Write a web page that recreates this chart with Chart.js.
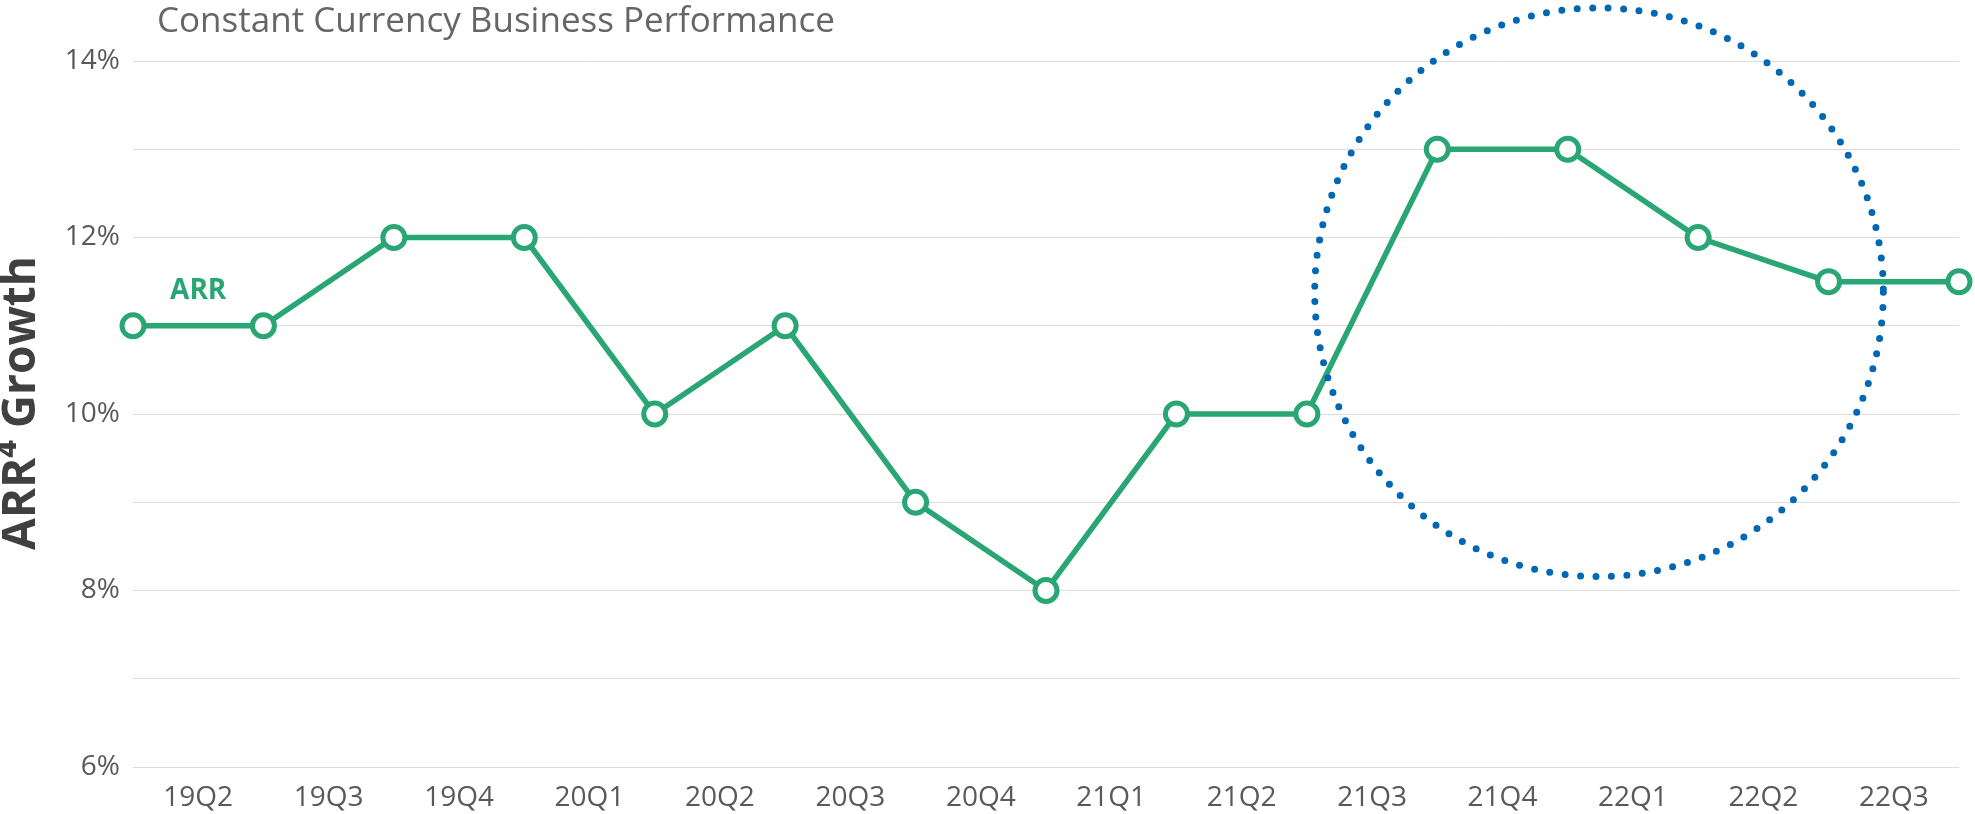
<!DOCTYPE html>
<html>
<head>
<meta charset="utf-8">
<script src="https://cdn.jsdelivr.net/npm/chart.js@4.4.1/dist/chart.umd.min.js"></script>
<style>
html, body { margin: 0; padding: 0; background: #fff; }
#wrap { width: 1975px; height: 814px; }
</style>
</head>
<body>
<div id="wrap"><canvas id="arrChart" width="1975" height="814"></canvas></div>
<script>
// Quarter labels sit between the data points
const quarterLabels = ['19Q2', '19Q3', '19Q4', '20Q1', '20Q2', '20Q3', '20Q4',
    '21Q1', '21Q2', '21Q3', '21Q4', '22Q1', '22Q2', '22Q3'];
// ARR growth %, one point per quarter boundary
const arrGrowth = [11, 11, 12, 12, 10, 11, 9, 8, 10, 10, 13, 13, 12, 11.5, 11.5];

const chartTitle = 'Constant Currency Business Performance';
const axisTitle = 'ARR\u2074 Growth';
const seriesName = 'ARR';

const green = '#29A673';
const fontFamily = '"Open Sans", "Noto Sans", sans-serif';

// dotted highlight circle, in data units
const focus = { x: 11.24, y: 11.38, r: 2.18 };

const titlePlugin = {
    id: 'titles',
    afterDraw(chart) {
        const ctx = chart.ctx;
        ctx.save();
        ctx.font = '35px ' + fontFamily;
        ctx.fillStyle = '#666666';
        ctx.textBaseline = 'middle';
        ctx.fillText(chartTitle, 157, 22);

        // rotated axis title
        ctx.translate(22, 403);
        ctx.rotate(-Math.PI / 2);
        ctx.font = 'bold 46px ' + fontFamily;
        ctx.fillStyle = '#404040';
        ctx.textAlign = 'center';
        ctx.fillText(axisTitle, 0, 0);
        ctx.restore();
    }
};

const focusPlugin = {
    id: 'focusCircle',
    afterDatasetsDraw(chart) {
        const { ctx, scales: { x, y } } = chart;
        const cx = x.getPixelForValue(focus.x);
        const cy = y.getPixelForValue(focus.y);
        const r = x.getPixelForValue(focus.x + focus.r) - cx;
        ctx.save();
        ctx.strokeStyle = '#0067B4';
        ctx.lineWidth = 7;
        ctx.lineCap = 'round';
        ctx.setLineDash([0, 15.5]);
        ctx.beginPath();
        ctx.arc(cx, cy, r, 0, Math.PI * 2);
        ctx.stroke();
        ctx.restore();

        // series name above the first segment
        const lx = x.getPixelForValue(0.5);
        const ly = y.getPixelForValue(arrGrowth[0]) - 35;
        ctx.save();
        ctx.font = 'bold 28px ' + fontFamily;
        ctx.fillStyle = green;
        ctx.textAlign = 'center';
        ctx.textBaseline = 'middle';
        ctx.fillText(seriesName, lx, ly);
        ctx.restore();
    }
};

new Chart(document.getElementById('arrChart'), {
    type: 'line',
    data: {
        datasets: [{
            label: seriesName,
            data: arrGrowth.map((v, i) => ({ x: i, y: v })),
            borderColor: green,
            borderWidth: 5.5,
            pointRadius: 11,
            pointBorderWidth: 5,
            pointBackgroundColor: '#ffffff',
            pointBorderColor: green,
            tension: 0,
            clip: false
        }]
    },
    options: {
        responsive: false,
        animation: false,
        layout: { padding: { top: 61, right: 7, left: 0, bottom: 0 } },
        plugins: {
            legend: { display: false },
            tooltip: { enabled: false }
        },
        scales: {
            x: {
                type: 'linear',
                min: 0,
                max: 14,
                afterFit(s) { s.height = 47; s.paddingLeft = 0; s.paddingRight = 0; },
                afterBuildTicks(s) { s.ticks = quarterLabels.map((_, i) => ({ value: i + 0.5 })); },
                border: { display: false },
                grid: { display: false, drawTicks: false },
                ticks: {
                    padding: 14,
                    color: '#595959',
                    font: { family: fontFamily, size: 28 },
                    maxRotation: 0,
                    autoSkip: false,
                    callback: (v, i) => quarterLabels[i]
                }
            },
            y: {
                min: 6,
                max: 14,
                afterFit(s) { s.width = 133; },
                border: { display: false },
                grid: { color: '#dcdcdc', lineWidth: 1, drawTicks: false },
                ticks: {
                    stepSize: 1,
                    padding: 13,
                    color: '#595959',
                    font: { family: fontFamily, size: 28 },
                    callback: v => (v % 2 === 0 ? v + '%' : '')
                }
            }
        }
    },
    plugins: [titlePlugin, focusPlugin]
});
</script>
</body>
</html>
